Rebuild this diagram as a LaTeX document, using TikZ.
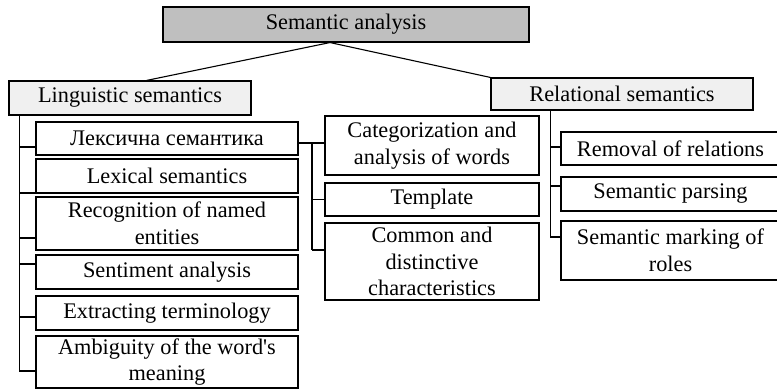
\documentclass[tikz,border=0pt]{standalone}
\usepackage{fontspec}
\setmainfont{Liberation Serif}
\usetikzlibrary{calc}
\tikzset{
  box/.style={draw=black, line width=1.1pt, inner sep=0pt, align=center,
              font=\fontsize{22.3}{26.5}\selectfont},
  rootbox/.style={box, fill=black!25},
  groupbox/.style={box, fill=black!6},
  link/.style={draw=black, line width=1.1pt},
}
\begin{document}
\begin{tikzpicture}[x=1pt, y=-1pt]
\useasboundingbox (0,0) rectangle (777,389);

% root and the two groups
\node[rootbox, minimum width=366pt, minimum height=35pt] (root) at (346,24.5) {Semantic analysis};
\node[groupbox, minimum width=242pt, minimum height=34pt] (ling) at (130,98) {Linguistic semantics};
\node[groupbox, minimum width=262pt, minimum height=32pt] (rel) at (622,94) {Relational semantics};

% linguistic branch
\node[box, minimum width=262pt, minimum height=33pt] (L1) at (167,138.5) {Лексична семантика};
\node[box, minimum width=262pt, minimum height=34pt] (L2) at (167,176) {Lexical semantics};
\node[box, minimum width=262pt, minimum height=53pt] (L3) at (167,223.5) {Recognition of named\\entities};
\node[box, minimum width=262pt, minimum height=34pt] (L4) at (167,272) {Sentiment analysis};
\node[box, minimum width=262pt, minimum height=34pt] (L5) at (167,313) {Extracting terminology};
\node[box, minimum width=262pt, minimum height=52pt] (L6) at (167,362) {Ambiguity of the word\textquotesingle s\\meaning};

% lexical semantics details
\node[box, minimum width=214pt, minimum height=59pt] (M1) at (432,145.5) {Categorization and\\analysis of words};
\node[box, minimum width=214pt, minimum height=33pt] (M2) at (432,199.5) {Template};
\node[box, minimum width=214pt, minimum height=77pt] (M3) at (432,261.5) {Common and\\distinctive\\characteristics};

% relational branch
\node[box, minimum width=219pt, minimum height=33pt] (R1) at (670.5,148.5) {Removal of relations};
\node[box, minimum width=219pt, minimum height=34pt] (R2) at (670.5,194) {Semantic parsing};
\node[box, minimum width=219pt, minimum height=59pt] (R3) at (670.5,250.5) {Semantic marking of\\roles};

% connectors from the root
\coordinate (apex) at ($(root.south)+(-16,0)$);
\coordinate (lingtop) at ($(ling.north west)+(138,0)$);
\draw[link] (lingtop) -- (apex) -- (rel.north west);

% left trunk
\coordinate (ltrunk) at ($(ling.south west)+(11,0)$);
\draw[link] (ltrunk) -- (ltrunk |- 0,371);
\draw[link] (ltrunk |- 0,147) -- (L1.west |- 0,147);
\draw[link] (ltrunk |- 0,193) -- (L2.west |- 0,193);
\draw[link] (ltrunk |- 0,238) -- (L3.west |- 0,238);
\draw[link] (ltrunk |- 0,264) -- (L4.west |- 0,264);
\draw[link] (ltrunk |- 0,317) -- (L5.west |- 0,317);
\draw[link] (ltrunk |- 0,371) -- (L6.west |- 0,371);

% middle trunk
\coordinate (mtrunk) at (312,143);
\draw[link] (L1.east |- mtrunk) -- (M1.west |- mtrunk);
\draw[link] (mtrunk) -- (mtrunk |- 0,250);
\draw[link] (mtrunk |- M2.west) -- (M2.west);
\draw[link] (mtrunk |- 0,250) -- (M3.west |- 0,250);

% right trunk
\coordinate (rtrunk) at ($(rel.south west)+(60,0)$);
\draw[link] (rtrunk) -- (rtrunk |- 0,237);
\draw[link] (rtrunk |- 0,147) -- (R1.west |- 0,147);
\draw[link] (rtrunk |- 0,186) -- (R2.west |- 0,186);
\draw[link] (rtrunk |- 0,237) -- (R3.west |- 0,237);
\end{tikzpicture}
\end{document}
